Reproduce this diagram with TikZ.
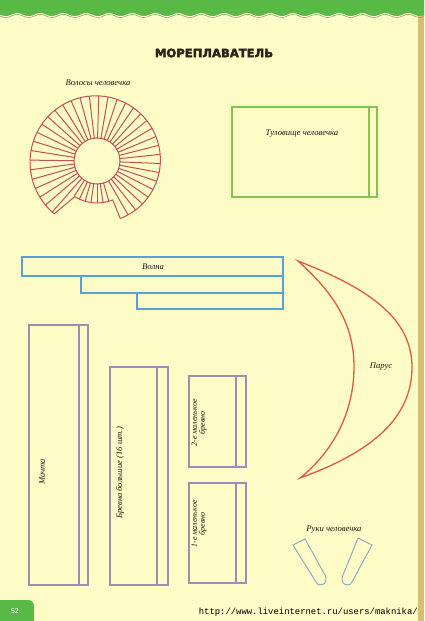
\documentclass[tikz,border=0pt]{standalone}
\usepackage{fontspec}
\setmainfont{Liberation Serif}
\newfontfamily\titlefont{DejaVu Sans}
\newfontfamily\urlfont{Liberation Mono}
\newfontfamily\numfont{Liberation Sans}
\definecolor{bgyellow}{HTML}{FEFCC6}
\definecolor{topgreen}{HTML}{58B947}
\definecolor{hairred}{HTML}{C0505A}
\definecolor{torsogreen}{HTML}{86C452}
\definecolor{waveblue}{HTML}{5AA0D8}
\definecolor{sailred}{HTML}{E05A40}
\definecolor{logpurple}{HTML}{9B8DB4}
\definecolor{handblue}{HTML}{8FA9C8}
\definecolor{titlebrown}{HTML}{2E2218}
\definecolor{edgegold}{HTML}{C9A545}
\tikzset{
  lbl/.style={font=\itshape\fontsize{8.6}{9}\selectfont, text=black!90, inner sep=0pt},
  piece/.style={line width=1.1pt},
}
\begin{document}
\begin{tikzpicture}[x=1pt,y=-1pt]
\useasboundingbox (0,0) rectangle (424,621);
\fill[bgyellow] (0,0) rectangle (424,621);
% right page edge
\fill[edgegold!70!bgyellow] (418,0) rectangle (424,621);
% top green band with wavy edge
\fill[topgreen] (0,0) -- (424,0) -- plot[domain=424:0,samples=220] (\x,{14.5+1.5*sin(\x/23*360)}) -- cycle;
\draw[topgreen!60!black!60, line width=0.6pt] plot[domain=0:424,samples=220] (\x,{16+1.5*sin(\x/23*360)});
% title
\node (title) at (214,53) {\titlefont\bfseries\fontsize{11.6}{13}\selectfont\color{titlebrown}\special{pdf:literal 2 Tr 0.35 w}МОРЕПЛАВАТЕЛЬ\special{pdf:literal 0 Tr}};

% hair
\node[lbl] (hairlbl) at (98,83) {Волосы человечка};
\begin{scope}[shift={(97,161)}, x=1pt, y=1pt, line width=1pt]
  \draw[hairred] (0,0) circle[radius=23];
  \draw[hairred] plot[domain=-68:231,samples=120] (\x:{62+0.02*(\x+68)});
  \draw[hairred] (231:68) -- (238:42) arc[start angle=238,end angle=292,radius=42] -- (292:62);
  \foreach \i in {0,...,42}{
    \pgfmathsetmacro\a{-60+8.25*\i}
    \pgfmathsetmacro\r{\a>232 ? 42 : 62+0.02*(\a+68)}
    \draw[hairred] (\a:23) -- (\a:\r);
  }
\end{scope}

% torso
\draw[torsogreen, piece] (232,107) rectangle (377,197);
\draw[torsogreen, piece] (369,107) -- (369,197);
\node[lbl] (torsolbl) at (302,134) {Туловище человечка};

% wave
\draw[waveblue, piece] (22,257) rectangle (283,276);
\draw[waveblue, piece] (81,276) rectangle (283,293);
\draw[waveblue, piece] (137,293) rectangle (283,309);
\node[lbl] (wavelbl) at (153,267) {Волна};

% sail
\draw[sailred, line width=1.3pt] (298,261) .. controls (368,288) and (412,318) .. (412,367)
  .. controls (412,418) and (372,452) .. (300,478)
  .. controls (335,450) and (354,410) .. (354,367)
  .. controls (354,320) and (330,290) .. (298,261) -- cycle;
\node[lbl] (saillbl) at (381,367) {Парус};

% mast
\draw[logpurple, piece] (29,325) rectangle (88,585);
\draw[logpurple, piece] (79,325) -- (79,585);
\node[lbl, rotate=90] (mastlbl) at (42,472) {Мачта};

% big logs
\draw[logpurple, piece] (110,367) rectangle (168,585);
\draw[logpurple, piece] (157,367) -- (157,585);
\node[lbl, rotate=90] (biglbl) at (120,473) {Бревна большие (16 шт.)};

% small logs
\draw[logpurple, piece] (189,376) rectangle (246,467);
\draw[logpurple, piece] (236,376) -- (236,467);
\node[lbl, rotate=90, align=center, font=\itshape\fontsize{8}{8}\selectfont] (small2lbl) at (199,423) {2-е маленькое\\бревно};
\draw[logpurple, piece] (189,483) rectangle (246,583);
\draw[logpurple, piece] (236,483) -- (236,583);
\node[lbl, rotate=90, align=center, font=\itshape\fontsize{8}{8}\selectfont] (small1lbl) at (199,524) {1-е маленькое\\бревно};

% hands
\node[lbl] (handlbl) at (334,530) {Руки человечка};
\draw[handblue, line width=1pt] (293,545) -- (305,539) -- (325,575)
  .. controls (329,583) and (320,589) .. (316,582) -- cycle;
\draw[handblue, line width=1pt] (358,538) -- (372,545) -- (352,582)
  .. controls (348,589) and (339,583) .. (343,575) -- cycle;

% page number
\fill[topgreen, rounded corners=6pt] (-10,600) rectangle (34,630);
\node (pagenum) at (15,611) {\numfont\fontsize{7}{8}\selectfont\color{white}52};
% url
\node[anchor=east, inner sep=0pt] (url) at (418,612) {\urlfont\fontsize{8.9}{9}\selectfont http://www.liveinternet.ru/users/maknika/};
\end{tikzpicture}
\end{document}
